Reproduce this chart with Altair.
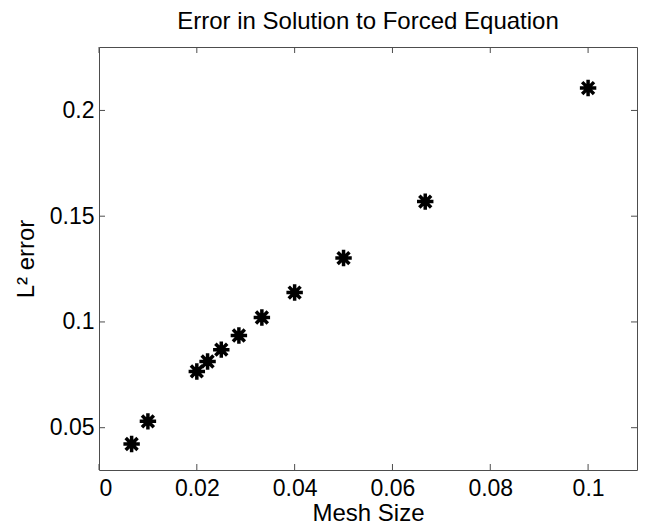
import altair as alt
import pandas as pd

# Data
mesh = [0.00667, 0.01, 0.02, 0.0222, 0.025, 0.0286, 0.0333, 0.04, 0.05, 0.0667, 0.1]
err = [0.0423, 0.0530, 0.0766, 0.0813, 0.0869, 0.0936, 0.1021, 0.1139, 0.1302, 0.1569, 0.2106]
x_ticks = [0, 0.02, 0.04, 0.06, 0.08, 0.1]
y_ticks = [0.05, 0.1, 0.15, 0.2]

W, H = 538, 423
FONT = "Liberation Sans"
AX = "#4d4d4d"

df = pd.DataFrame({"mesh": mesh, "err": err})
xt = pd.DataFrame({"mesh": x_ticks})
yt = pd.DataFrame({"err": y_ticks})

xs = alt.Scale(domain=[0, 0.11], nice=False, zero=False)
ys = alt.Scale(domain=[0.03, 0.23], nice=False, zero=False)

common = dict(ticks=False, domain=False, grid=False,
              labelFont=FONT, labelFontSize=23, labelColor="black",
              titleFont=FONT, titleFontSize=24, titleFontWeight="normal", titleColor="black")
x_axis = alt.Axis(values=x_ticks, format=".2~f", labelPadding=7, titlePadding=1, **common)
y_axis = alt.Axis(values=y_ticks, format=".2~f", labelPadding=5, titlePadding=11, **common)
X = alt.X("mesh:Q", scale=xs, title="Mesh Size", axis=x_axis)
Y = alt.Y("err:Q", scale=ys, title="L\u00b2 error", axis=y_axis)

star = "M-1,0L1,0M0,-1L0,1M-0.72,-0.72L0.72,0.72M-0.72,0.72L0.72,-0.72"

points = alt.Chart(df).mark_point(
    shape=star, filled=False, stroke="black", strokeWidth=3.5, size=270, opacity=1
).encode(x=X, y=Y)

tick_len = 6
bottom = alt.Chart(xt).mark_rule(color=AX, strokeWidth=1).encode(
    x=X, y=alt.value(H), y2=alt.value(H - tick_len))
top = alt.Chart(xt).mark_rule(color=AX, strokeWidth=1).encode(
    x=X, y=alt.value(0), y2=alt.value(tick_len))
left = alt.Chart(yt).mark_rule(color=AX, strokeWidth=1).encode(
    y=Y, x=alt.value(0), x2=alt.value(tick_len))
right = alt.Chart(yt).mark_rule(color=AX, strokeWidth=1).encode(
    y=Y, x=alt.value(W), x2=alt.value(W - tick_len))

chart = alt.layer(points, bottom, top, left, right).properties(
    width=W, height=H,
    autosize="none",
    background="white",
    padding={"left": 91, "top": 39, "right": 4, "bottom": 58},
    title=alt.TitleParams("Error in Solution to Forced Equation", font=FONT,
                          fontSize=24, fontWeight="normal", color="black", offset=13),
).configure_view(
    stroke=AX, strokeWidth=1
)

chart.save("out.html", embed_options={"renderer": "svg", "actions": False})
